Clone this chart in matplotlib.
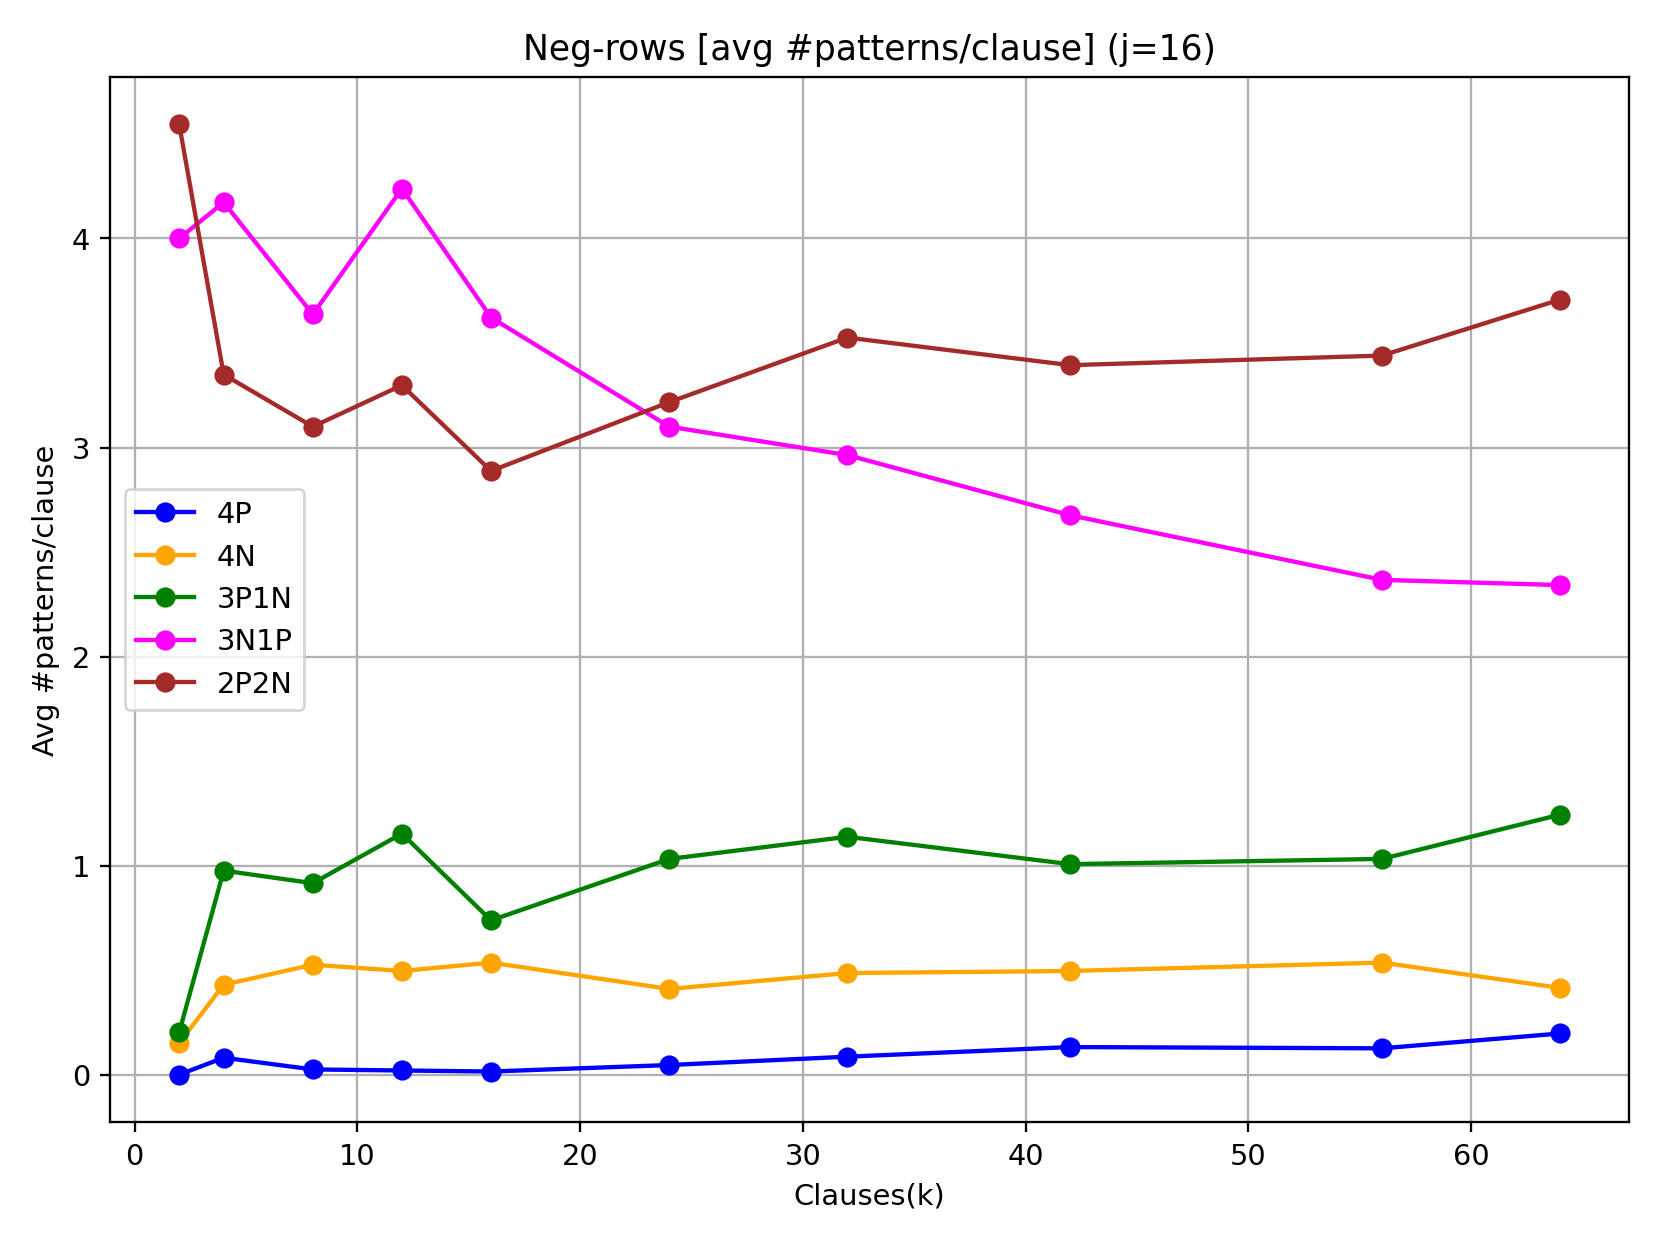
import numpy as np
import matplotlib
matplotlib.use("Agg")
import matplotlib.pyplot as plt

clauses = [2, 4, 8, 12, 16, 24, 32, 42, 56, 64]

p4 = [0.0, 0.081, 0.025, 0.02, 0.015, 0.046, 0.086, 0.132, 0.126, 0.197]
n4 = [0.152, 0.43, 0.526, 0.496, 0.536, 0.41, 0.486, 0.496, 0.536, 0.415]
p3n1 = [0.202, 0.976, 0.916, 1.153, 0.738, 1.032, 1.138, 1.007, 1.032, 1.244]
n3p1 = [4.0, 4.173, 3.637, 4.239, 3.622, 3.10, 2.964, 2.676, 2.367, 2.342]
p2n2 = [4.547, 3.349, 3.10, 3.298, 2.888, 3.217, 3.526, 3.394, 3.44, 3.708]

series = [("4P", p4, "blue"), ("4N", n4, "orange"), ("3P1N", p3n1, "green"),
          ("3N1P", n3p1, "magenta"), ("2P2N", p2n2, "brown")]

fig, ax = plt.subplots(figsize=(8, 6), dpi=207.6)
for name, vals, col in series:
    ax.plot(clauses, vals, marker="o", color=col, label=name)

ax.set_title("Neg-rows [avg #patterns/clause] (j=16)")
ax.set_xlabel("Clauses(k)")
ax.set_ylabel("Avg #patterns/clause")
ax.legend(loc="center left")
ax.grid(True)
fig.subplots_adjust(left=0.0663, right=0.981, top=0.938, bottom=0.0986)
fig.savefig("out.png")
